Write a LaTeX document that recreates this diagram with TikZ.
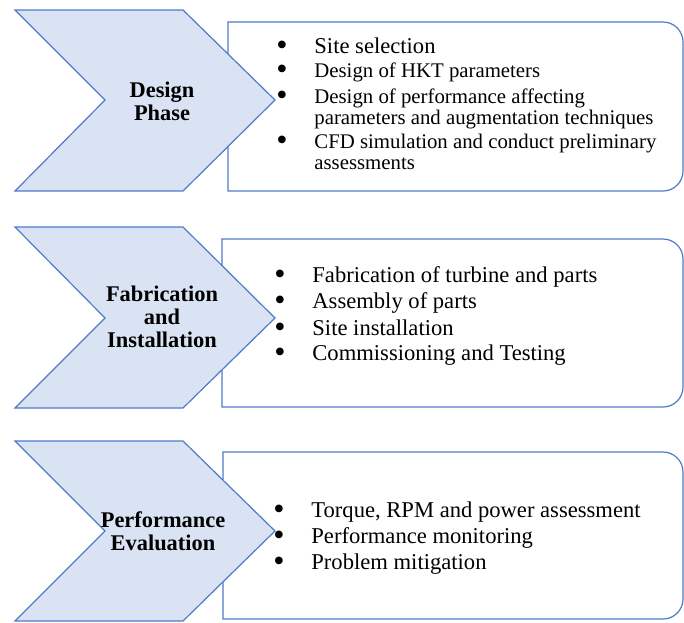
\documentclass[tikz,border=0pt]{standalone}
\usepackage{fontspec}
\setmainfont{Liberation Serif}
\usepackage{xcolor}
\usepackage{tikz}
\usetikzlibrary{positioning}

\definecolor{chevfill}{HTML}{DAE3F3}
\definecolor{chevline}{HTML}{4F7BC8}

% mot dong gach dau dong, dong thu hai thut vao
\newcommand{\bulletline}[2][11.3]{\parbox[t]{230pt}{%
    \fontsize{#1}{10.6}\selectfont
    \hangindent=19pt\hangafter=1\noindent
    \makebox[19pt][l]{\smash{\raisebox{-1.3pt}{\fontsize{16}{16}\selectfont\textbullet}}}#2}}

\begin{document}
\begin{tikzpicture}[x=0.5pt, y=-0.5pt,
    chev/.style={fill=chevfill, draw=chevline, line width=0.6pt, line join=miter},
    panel/.style={draw=chevline, line width=0.6pt, fill=white},
    phase/.style={align=center, inner sep=0pt,
        font=\fontsize{11.2}{11.5}\selectfont\bfseries},
    bitem/.style={anchor=base west, inner sep=0pt}]

    \useasboundingbox (0,0) rectangle (684,622);

    % =================================================================
    % 1. CAC KHUNG NOI DUNG BEN PHAI (bo tron hai goc phai)
    % =================================================================
    \draw[panel] (228,22) -- (663,22) arc[start angle=-90, end angle=0, radius=20]
        -- (683,171) arc[start angle=0, end angle=90, radius=20] -- (228,191) -- cycle;
    \draw[panel] (222,239) -- (663,239) arc[start angle=-90, end angle=0, radius=20]
        -- (683,387) arc[start angle=0, end angle=90, radius=20] -- (222,407) -- cycle;
    \draw[panel] (223,452) -- (663,452) arc[start angle=-90, end angle=0, radius=20]
        -- (683,599) arc[start angle=0, end angle=90, radius=20] -- (223,619) -- cycle;

    % =================================================================
    % 2. CAC MUI TEN CHEVRON BEN TRAI
    % =================================================================
    \draw[chev] (15,10) -- (183,10) -- (275,100) -- (183,191) -- (15,191) -- (105,100) -- cycle;
    \draw[chev] (15,227) -- (183,227) -- (275,318) -- (183,408) -- (15,408) -- (105,318) -- cycle;
    \draw[chev] (15,441) -- (183,441) -- (275,531) -- (183,621) -- (15,621) -- (105,531) -- cycle;

    % =================================================================
    % 3. TEN CAC GIAI DOAN
    % =================================================================
    \node[phase] (design) at (162,101) {Design\\Phase};
    \node[phase] (fabric) at (162,317) {Fabrication\\and\\Installation};
    \node[phase] (perf) at (163,531) {Performance\\Evaluation};

    % =================================================================
    % 4. NOI DUNG TUNG GIAI DOAN
    % =================================================================
    % Giai doan thiet ke (dong dau chu lon hon)
    \node[bitem] (d1) at (276,53) {\bulletline{Site selection}};
    \node[bitem] (d2) at (276,77) {\bulletline[10.4]{Design of HKT parameters}};
    \node[bitem] (d3) at (276,103) {\bulletline[10.4]{Design of performance affecting\newline
        parameters and augmentation techniques}};
    \node[bitem] (d4) at (276,148) {\bulletline[10.4]{CFD simulation and conduct preliminary\newline
        assessments}};

    % Che tao va lap dat
    \node[bitem] (f1) at (274,282) {\bulletline{Fabrication of turbine and parts}};
    \node[bitem] (f2) at (274,308) {\bulletline{Assembly of parts}};
    \node[bitem] (f3) at (274,335) {\bulletline{Site installation}};
    \node[bitem] (f4) at (274,360) {\bulletline{Commissioning and Testing}};

    % Danh gia hieu suat
    \node[bitem] (e1) at (273,517) {\bulletline{Torque, RPM and power assessment}};
    \node[bitem] (e2) at (273,543) {\bulletline{Performance monitoring}};
    \node[bitem] (e3) at (273,569) {\bulletline{Problem mitigation}};

\end{tikzpicture}
\end{document}
